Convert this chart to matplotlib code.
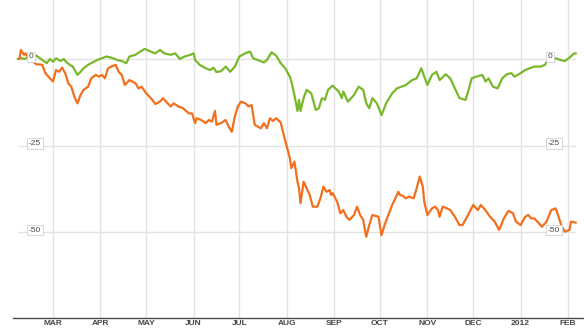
import numpy as np
import pandas as pd
import matplotlib
matplotlib.use("Agg")
import matplotlib.pyplot as plt
import matplotlib.dates as mdates
import matplotlib.ticker as mticker
import matplotlib.transforms as mtransforms

plt.rcParams['font.family'] = ['Liberation Sans', 'DejaVu Sans']

# green series (% change)
green_dates = [
    "2011-02-06", "2011-02-08", "2011-02-10", "2011-02-18", "2011-02-22", "2011-02-25",
    "2011-02-27", "2011-03-01", "2011-03-03", "2011-03-06", "2011-03-08", "2011-03-10",
    "2011-03-12", "2011-03-14", "2011-03-17", "2011-03-19", "2011-03-21", "2011-03-24",
    "2011-03-26", "2011-03-30", "2011-04-02", "2011-04-05", "2011-04-08", "2011-04-12",
    "2011-04-15", "2011-04-18", "2011-04-20", "2011-04-24", "2011-04-27", "2011-04-30",
    "2011-05-03", "2011-05-07", "2011-05-10", "2011-05-13", "2011-05-17", "2011-05-20",
    "2011-05-23", "2011-05-26", "2011-05-30", "2011-06-01", "2011-06-02", "2011-06-05",
    "2011-06-09", "2011-06-12", "2011-06-14", "2011-06-16", "2011-06-19", "2011-06-22",
    "2011-06-25", "2011-06-28", "2011-07-01", "2011-07-05", "2011-07-08", "2011-07-10",
    "2011-07-13", "2011-07-17", "2011-07-19", "2011-07-22", "2011-07-25", "2011-07-28",
    "2011-07-31", "2011-08-03", "2011-08-04", "2011-08-06", "2011-08-08", "2011-08-09",
    "2011-08-10", "2011-08-12", "2011-08-14", "2011-08-17", "2011-08-20", "2011-08-22",
    "2011-08-24", "2011-08-26", "2011-08-28", "2011-08-31", "2011-09-04", "2011-09-06",
    "2011-09-07", "2011-09-10", "2011-09-14", "2011-09-17", "2011-09-20", "2011-09-22",
    "2011-09-24", "2011-09-26", "2011-09-29", "2011-10-02", "2011-10-05", "2011-10-09",
    "2011-10-12", "2011-10-15", "2011-10-18", "2011-10-22", "2011-10-25", "2011-10-28",
    "2011-11-01", "2011-11-04", "2011-11-07", "2011-11-09", "2011-11-13", "2011-11-16",
    "2011-11-19", "2011-11-22", "2011-11-26", "2011-11-28", "2011-11-30", "2011-12-03",
    "2011-12-07", "2011-12-09", "2011-12-11", "2011-12-14", "2011-12-17", "2011-12-20",
    "2011-12-23", "2011-12-26", "2011-12-28", "2012-01-01", "2012-01-04", "2012-01-07",
    "2012-01-10", "2012-01-14", "2012-01-17", "2012-01-18", "2012-01-24", "2012-01-27",
    "2012-01-30", "2012-02-02", "2012-02-05", "2012-02-06",
]
green_values = [
    0.0, 0.3, 0.0, 1.0, -0.3, -1.2,
    0.0, -0.8, 0.2, -0.6, 0.0, -1.0,
    -1.7, -2.2, -4.6, -3.7, -2.7, -1.7,
    -1.2, -0.3, 0.2, 0.7, 0.4, -0.3,
    -0.6, -1.2, 0.7, 1.2, 2.1, 2.9,
    2.3, 1.6, 2.6, 1.6, 1.2, 1.6,
    0.0, 0.7, 1.2, 1.6, -0.3, -1.7,
    -2.7, -3.2, -2.5, -3.8, -3.5, -2.2,
    -3.7, -2.2, 0.7, 1.7, 2.1, 0.2,
    -0.3, -1.0, -0.3, 1.9, 1.0, -1.2,
    -2.7, -5.1, -6.5, -10.4, -15.0, -11.8,
    -15.0, -11.3, -8.9, -9.9, -14.7, -14.2,
    -11.3, -11.8, -8.9, -7.7, -9.4, -11.3,
    -9.4, -12.3, -10.4, -8.0, -8.9, -12.8,
    -14.2, -11.3, -12.8, -16.2, -12.8, -9.9,
    -8.5, -8.0, -7.5, -6.1, -5.6, -2.7,
    -7.5, -4.6, -3.7, -6.1, -4.4, -5.6,
    -8.5, -11.3, -11.8, -8.9, -5.6, -5.1,
    -4.6, -6.5, -5.6, -8.0, -8.5, -5.6,
    -4.4, -4.1, -5.1, -4.1, -3.2, -2.7,
    -2.2, -2.2, -1.7, -0.8, 0.2, -0.3,
    -0.6, 0.4, 1.6, 1.6,
]

# orange series (% change)
orange_dates = [
    "2011-02-07", "2011-02-08", "2011-02-10", "2011-02-11", "2011-02-13", "2011-02-18",
    "2011-02-22", "2011-02-24", "2011-02-27", "2011-03-01", "2011-03-03", "2011-03-05",
    "2011-03-07", "2011-03-09", "2011-03-11", "2011-03-13", "2011-03-15", "2011-03-17",
    "2011-03-19", "2011-03-21", "2011-03-24", "2011-03-26", "2011-03-29", "2011-03-31",
    "2011-04-02", "2011-04-04", "2011-04-06", "2011-04-08", "2011-04-11", "2011-04-13",
    "2011-04-15", "2011-04-17", "2011-04-20", "2011-04-24", "2011-04-26", "2011-04-28",
    "2011-05-01", "2011-05-05", "2011-05-07", "2011-05-10", "2011-05-12", "2011-05-14",
    "2011-05-17", "2011-05-19", "2011-05-22", "2011-05-25", "2011-05-29", "2011-05-31",
    "2011-06-02", "2011-06-03", "2011-06-06", "2011-06-09", "2011-06-11", "2011-06-13",
    "2011-06-15", "2011-06-16", "2011-06-19", "2011-06-22", "2011-06-24", "2011-06-26",
    "2011-06-28", "2011-06-30", "2011-07-02", "2011-07-05", "2011-07-07", "2011-07-09",
    "2011-07-11", "2011-07-15", "2011-07-17", "2011-07-19", "2011-07-21", "2011-07-23",
    "2011-07-25", "2011-07-28", "2011-07-30", "2011-08-01", "2011-08-03", "2011-08-04",
    "2011-08-06", "2011-08-08", "2011-08-09", "2011-08-10", "2011-08-12", "2011-08-14",
    "2011-08-16", "2011-08-18", "2011-08-21", "2011-08-23", "2011-08-25", "2011-08-27",
    "2011-08-29", "2011-08-30", "2011-08-31", "2011-09-03", "2011-09-05", "2011-09-07",
    "2011-09-09", "2011-09-11", "2011-09-14", "2011-09-16", "2011-09-18", "2011-09-20",
    "2011-09-22", "2011-09-24", "2011-09-26", "2011-09-30", "2011-10-02", "2011-10-04",
    "2011-10-06", "2011-10-09", "2011-10-11", "2011-10-13", "2011-10-14", "2011-10-16",
    "2011-10-18", "2011-10-20", "2011-10-23", "2011-10-25", "2011-10-27", "2011-10-29",
    "2011-10-30", "2011-11-01", "2011-11-04", "2011-11-06", "2011-11-08", "2011-11-09",
    "2011-11-11", "2011-11-14", "2011-11-16", "2011-11-19", "2011-11-22", "2011-11-24",
    "2011-11-27", "2011-12-01", "2011-12-04", "2011-12-06", "2011-12-09", "2011-12-12",
    "2011-12-15", "2011-12-18", "2011-12-21", "2011-12-24", "2011-12-27", "2011-12-29",
    "2012-01-01", "2012-01-04", "2012-01-06", "2012-01-08", "2012-01-10", "2012-01-13",
    "2012-01-15", "2012-01-18", "2012-01-21", "2012-01-24", "2012-01-26", "2012-01-28",
    "2012-01-30", "2012-02-02", "2012-02-03", "2012-02-06",
]
orange_values = [
    0.0, 2.6, 1.2, 1.6, 0.2, -1.5,
    -1.7, -4.1, -5.6, -6.5, -3.2, -3.7,
    -2.5, -4.1, -7.0, -8.0, -10.9, -12.8,
    -10.4, -8.9, -8.0, -5.6, -4.6, -5.1,
    -4.6, -5.6, -2.7, -2.2, -1.7, -3.7,
    -4.6, -7.5, -6.1, -7.0, -8.5, -8.0,
    -9.9, -11.8, -13.0, -12.3, -11.3, -12.3,
    -13.7, -12.8, -13.7, -14.2, -15.7, -15.7,
    -18.5, -17.1, -17.6, -18.5, -17.6, -18.1,
    -15.0, -19.0, -18.5, -17.6, -19.5, -21.0,
    -16.6, -13.7, -12.3, -12.8, -13.7, -13.3,
    -19.0, -20.0, -18.5, -20.0, -17.1, -17.9,
    -17.1, -18.3, -21.9, -25.3, -28.6, -31.5,
    -29.6, -35.4, -37.3, -41.6, -35.4, -37.3,
    -39.2, -42.6, -42.6, -40.2, -36.8, -38.3,
    -37.8, -39.2, -38.7, -41.2, -44.5, -43.6,
    -45.5, -46.4, -45.0, -42.6, -45.0, -46.4,
    -51.3, -47.9, -45.0, -45.5, -50.8, -47.9,
    -45.5, -42.1, -40.2, -38.3, -39.2, -39.5,
    -40.2, -39.7, -40.2, -37.3, -33.9, -36.8,
    -41.2, -45.0, -43.1, -42.6, -43.6, -45.5,
    -42.6, -43.1, -43.6, -45.5, -47.9, -47.9,
    -45.5, -42.1, -43.6, -42.1, -43.6, -45.5,
    -46.9, -49.3, -46.0, -43.8, -44.5, -46.9,
    -47.9, -45.5, -45.0, -46.0, -46.0, -47.4,
    -48.4, -46.9, -43.6, -43.1, -45.7, -48.4,
    -49.8, -49.3, -46.9, -47.2,
]

y_ticks = [0, -25, -50]
month_names = ['JAN', 'FEB', 'MAR', 'APR', 'MAY', 'JUN',
               'JUL', 'AUG', 'SEP', 'OCT', 'NOV', 'DEC']

green_color = '#79b72b'
orange_color = '#f26f1e'
grid_color = '#e3e3e3'
text_color = '#484848'

g_x = pd.to_datetime(green_dates)
o_x = pd.to_datetime(orange_dates)

fig = plt.figure(figsize=(5.84, 3.32), dpi=100)
ax = fig.add_axes([13 / 584, 14 / 332, 571 / 584, 318 / 332])

ax.set_xlim(pd.Timestamp("2011-02-02 20:00"), pd.Timestamp("2012-02-11 12:00"))
ax.set_ylim(-74.7, 17.0)

# horizontal grid only over the data span
x0 = min(g_x.min(), o_x.min())
x1 = max(g_x.max(), o_x.max())
ax.hlines(y_ticks, x0, x1, color=grid_color, linewidth=1.0, zorder=1)

ax.plot(g_x, green_values, color=green_color, linewidth=1.6, zorder=3,
        solid_joinstyle='round')
ax.plot(o_x, orange_values, color=orange_color, linewidth=1.6, zorder=3,
        solid_joinstyle='round')

# month ticks
ax.xaxis.set_major_locator(mdates.MonthLocator())
def month_fmt(x, pos=None):
    d = mdates.num2date(x)
    return str(d.year) if d.month == 1 else month_names[d.month - 1]
ax.xaxis.set_major_formatter(mticker.FuncFormatter(month_fmt))
ax.tick_params(axis='x', length=0, pad=1.5, labelsize=6, labelcolor=text_color)
for lbl in ax.get_xticklabels():
    lbl.set_fontweight('bold')
ax.grid(axis='x', color=grid_color, linewidth=1.0, zorder=0)
ax.set_yticks([])

for side in ['top', 'right', 'left']:
    ax.spines[side].set_visible(False)
ax.spines['bottom'].set_color('#4a4a4a')
ax.spines['bottom'].set_linewidth(1.0)

# boxed value labels on both sides
trans = mtransforms.blended_transform_factory(ax.transAxes, ax.transData)
for v in y_ticks:
    for xf in (0.028, 0.937):
        ax.text(xf, v + 0.6, str(v), transform=trans, fontsize=6, color=text_color,
                ha='left', va='center', zorder=5,
                bbox=dict(boxstyle='square,pad=0.2', fc='white', ec='#d0d0d0', lw=0.6))

fig.savefig('out.png', dpi=100)
